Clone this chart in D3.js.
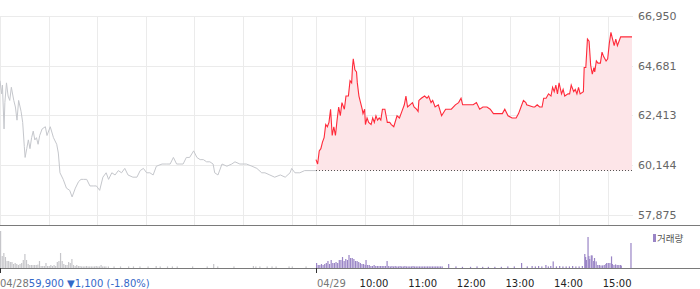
<!DOCTYPE html>
<html lang="ko">
<head>
<meta charset="UTF-8">
<title>일별 시세</title>
<script src="https://cdn.jsdelivr.net/npm/d3@7"></script>
<style>
    body {
        margin: 0;
        background: #fff;
    }
    svg {
        display: block;
        font-family: "DejaVu Sans", sans-serif;
    }
</style>
</head>
<body>
<svg id="chart" width="700" height="289"></svg>
<script>
// minutes from 09:00, price (won)
const day1Line = [[0,64000],[2,63400],[3,63800],[5,61800],[6,63000],[8,63900],[10,63300],[12,63100],[14,63700],[17,63100],[19,62800],[21,62200],[23,63100],[26,62600],[28,62100],[30,61000],[31,60500],[33,60900],[35,61300],[37,60900],[39,61400],[41,61700],[43,61300],[45,61400],[47,61100],[49,61500],[52,61800],[56,61900],[58,61500],[62,61900],[66,61400],[70,61100],[72,60700],[74,59800],[78,59500],[82,59100],[86,59000],[89,58700],[93,59100],[97,59400],[100,59500],[103,59500],[107,59500],[111,59200],[115,59200],[119,59200],[123,59000],[127,59600],[131,59800],[134,59500],[138,59800],[142,59700],[146,59900],[150,59800],[154,60000],[158,59700],[164,59600],[169,59600],[173,59900],[177,60000],[181,59800],[185,59800],[189,59700],[193,60100],[200,60200],[206,60200],[210,60200],[214,60500],[218,60200],[222,60200],[226,60200],[230,60500],[234,60500],[239,60800],[243,60500],[247,60400],[251,60400],[255,60300],[259,60300],[263,60200],[265,59800],[269,59700],[274,60200],[280,60100],[286,60200],[290,60300],[296,60200],[304,60200],[311,60100],[317,60000],[323,59800],[327,59800],[333,59700],[339,59600],[346,59700],[352,59600],[358,59800],[360,60000],[364,59800],[370,59800],[376,59900],[390,59900]]

const day2Line = [[0,60400],[2,60200],[4,60800],[6,60900],[8,61200],[10,61400],[12,62000],[14,61900],[16,62100],[18,62700],[20,61500],[22,61900],[24,61500],[26,62200],[28,62800],[30,62400],[32,63000],[35,62700],[37,63300],[40,63300],[42,64000],[44,63900],[45,64600],[46,65000],[48,64500],[50,64400],[51,63900],[53,63300],[55,63000],[57,62700],[58,62500],[60,62700],[61,62000],[63,62300],[65,62100],[68,62000],[70,62300],[72,62100],[74,62400],[76,62200],[78,62300],[80,62200],[82,62700],[85,62700],[88,62100],[91,62100],[93,62000],[96,61900],[100,62400],[103,62300],[106,62600],[109,62900],[111,63300],[113,62800],[116,62900],[119,63000],[121,62800],[124,62700],[126,62600],[127,63100],[130,63200],[134,63300],[137,63200],[139,63300],[142,63000],[144,63100],[147,62800],[151,62900],[155,62400],[160,62700],[163,62700],[167,62700],[172,62900],[176,63000],[179,63200],[181,62900],[186,62900],[190,62900],[194,62900],[198,63000],[202,62700],[206,62800],[211,62800],[215,62700],[219,62500],[225,62500],[230,62500],[233,62700],[237,62400],[242,62300],[247,62300],[250,62500],[253,62800],[256,63100],[259,63000],[260,62900],[268,62800],[270,62800],[273,62900],[276,62800],[279,62800],[281,63200],[284,63200],[287,63400],[290,63300],[292,63700],[294,63500],[296,63800],[298,63400],[300,63900],[303,63400],[305,63600],[307,63300],[311,63400],[313,63400],[315,63800],[318,63500],[320,63600],[322,63400],[324,63700],[326,63400],[330,63500],[331,64600],[333,64600],[335,65900],[337,65800],[339,64700],[341,64300],[343,64600],[344,64400],[346,64900],[348,64800],[351,64800],[353,65300],[355,65100],[358,64900],[360,65000],[362,65700],[364,66200],[366,65900],[368,65600],[370,65900],[372,65600],[374,65800],[376,66000],[381,66000],[390,66000]]

// minutes from 09:00, volume (thousand shares)
const day1Vol = [[0,185],[2,60],[4,75],[6,55],[8,35],[10,35],[12,30],[14,30],[16,20],[18,25],[20,20],[22,15],[24,20],[26,25],[28,40],[30,70],[32,40],[34,20],[36,15],[38,15],[40,15],[42,15],[44,15],[46,17],[48,35],[50,10],[52,10],[54,10],[56,25],[58,10],[60,10],[62,15],[64,10],[66,15],[68,10],[70,30],[72,35],[74,75],[76,35],[78,20],[80,15],[82,15],[84,30],[86,25],[88,45],[90,15],[92,10],[94,15],[96,10],[98,10],[100,8],[102,8],[104,8],[106,10],[108,8],[110,8],[112,8],[114,8],[116,8],[118,10],[120,8],[122,8],[124,15],[126,8],[128,8],[130,8],[133,8],[140,8],[148,8],[158,8],[164,8],[172,8],[182,8],[192,10],[197,8],[206,8],[212,8],[218,8],[237,8],[255,8],[263,20],[268,8],[288,8],[312,10],[315,8],[320,8],[329,8],[335,8],[340,8],[356,8],[360,8],[377,8]]

const day2Vol = [[0,25],[2,15],[4,15],[6,20],[8,15],[10,20],[12,25],[14,35],[16,20],[18,40],[20,25],[22,25],[24,30],[26,25],[28,40],[30,40],[32,55],[34,35],[36,45],[38,40],[40,65],[42,50],[44,50],[46,45],[48,35],[50,35],[52,30],[54,25],[56,20],[58,20],[60,15],[61,40],[63,15],[65,15],[67,10],[69,10],[71,15],[73,10],[75,10],[77,10],[79,10],[81,10],[83,10],[85,10],[87,35],[89,10],[91,8],[93,10],[95,8],[97,10],[99,8],[101,8],[103,10],[105,8],[107,8],[109,10],[111,8],[113,8],[115,8],[117,8],[119,10],[121,8],[123,8],[125,8],[127,8],[129,8],[131,8],[133,8],[135,8],[137,8],[139,8],[141,8],[143,8],[145,8],[147,8],[149,8],[151,8],[153,8],[155,8],[163,20],[172,8],[180,6],[190,6],[198,8],[205,6],[212,6],[220,6],[228,6],[236,8],[244,8],[253,25],[260,8],[266,10],[270,8],[274,10],[278,8],[283,15],[286,8],[289,10],[292,33],[296,8],[300,10],[304,8],[308,8],[312,8],[316,10],[320,8],[324,8],[328,10],[331,70],[332,55],[333,40],[335,155],[336,60],[337,45],[339,63],[340,63],[342,35],[343,50],[345,33],[347,15],[349,15],[351,13],[353,13],[355,15],[357,20],[358,25],[360,25],[362,25],[364,58],[365,20],[367,15],[369,18],[371,15],[373,15],[375,15],[376,12],[388,125]]

const dayLabels = ['04/28', '04/29']
const hourLabels = ['10:00', '11:00', '12:00', '13:00', '14:00', '15:00']
const priceTicks = [57875, 60144, 62413, 64681, 66950]
const prevClose = 59900
const prevChange = -1100
const prevChangePct = -1.80

const dayLen = 390  // 09:00 ~ 15:30

let svg = d3.select('#chart')

let x = d3.scaleLinear().domain([0, dayLen * 2]).range([0, 632])
let y = d3.scaleLinear().domain([57875, 66950]).range([215, 16])
let yVol = d3.scaleLinear().domain([0, 200]).range([268, 228])

let px = v => Math.round(v) + 0.5

// 가로 격자
svg.append('g').selectAll('line')
    .data(priceTicks)
    .enter().append('line')
    .attr('x1', 0).attr('x2', 633)
    .attr('y1', d => px(y(d))).attr('y2', d => px(y(d)))
    .attr('stroke', '#ebebeb')

// 세로 격자 (day start + hours)
let vTicks = []
for (let d = 0; d < 2; d++) {
    for (let h = 0; h <= hourLabels.length; h++) vTicks.push(d * dayLen + h * 60)
}
svg.append('g').selectAll('line')
    .data(vTicks)
    .enter().append('line')
    .attr('x1', d => px(x(d))).attr('x2', d => px(x(d)))
    .attr('y1', 16).attr('y2', 225)
    .attr('stroke', '#ebebeb')

// 가격 라벨
svg.append('g').selectAll('text')
    .data(priceTicks)
    .enter().append('text')
    .attr('x', 638)
    .attr('y', d => y(d) + 4)
    .attr('font-size', 11)
    .attr('fill', '#666')
    .text(d => d3.format(',')(d))

// 04/29 area + line
let d2 = day2Line.map(d => [d[0] + dayLen, d[1]])
svg.append('path')
    .datum(d2)
    .attr('fill', '#fde5e8')
    .attr('d', d3.area().x(d => x(d[0])).y0(y(prevClose)).y1(d => y(d[1])))

svg.append('line')
    .attr('x1', x(dayLen)).attr('x2', x(dayLen * 2))
    .attr('y1', px(y(prevClose)) - 1).attr('y2', px(y(prevClose)) - 1)
    .attr('stroke', '#555')
    .attr('stroke-dasharray', '1,2')

svg.append('path')
    .datum(day1Line)
    .attr('fill', 'none')
    .attr('stroke', '#c5c7cc')
    .attr('stroke-width', 1)
    .attr('d', d3.line().x(d => x(d[0])).y(d => y(d[1])))

svg.append('path')
    .datum(d2)
    .attr('fill', 'none')
    .attr('stroke', '#ff2a3a')
    .attr('stroke-width', 1.1)
    .attr('d', d3.line().x(d => x(d[0])).y(d => y(d[1])))

// 거래량
svg.append('g').selectAll('rect')
    .data(day1Vol)
    .enter().append('rect')
    .attr('x', d => x(d[0]))
    .attr('y', d => yVol(d[1]))
    .attr('width', 1.2)
    .attr('height', d => yVol(0) - yVol(d[1]))
    .attr('fill', '#c6c6ca')

svg.append('g').selectAll('rect')
    .data(day2Vol)
    .enter().append('rect')
    .attr('x', d => x(d[0] + dayLen))
    .attr('y', d => yVol(d[1]))
    .attr('width', 1.2)
    .attr('height', d => yVol(0) - yVol(d[1]))
    .attr('fill', '#9a85c6')

// 구분선
svg.append('line')
    .attr('x1', 0).attr('x2', 700)
    .attr('y1', 225.5).attr('y2', 225.5)
    .attr('stroke', '#7a7a7a')
svg.append('line')
    .attr('x1', 0).attr('x2', 700)
    .attr('y1', 268.5).attr('y2', 268.5)
    .attr('stroke', '#7a7a7a')

svg.append('g').selectAll('line')
    .data([0, dayLen])
    .enter().append('line')
    .attr('x1', d => px(x(d))).attr('x2', d => px(x(d)))
    .attr('y1', 268).attr('y2', 273)
    .attr('stroke', '#333')

// 범례
svg.append('rect')
    .attr('x', 653).attr('y', 234)
    .attr('width', 3).attr('height', 8)
    .attr('fill', '#9a85c6')
svg.append('text')
    .attr('x', 657).attr('y', 242)
    .attr('font-family', '"Noto Sans CJK KR", sans-serif')
    .attr('font-size', 9.5)
    .attr('fill', '#555')
    .text('거래량')

// 하단 라벨
let info = svg.append('text')
    .attr('x', 0).attr('y', 287)
    .attr('font-size', 10)
    .attr('fill', '#777')
    .text(dayLabels[0])
info.append('tspan')
    .attr('fill', '#3468c8')
    .text(d3.format(',')(prevClose) + ' ' + (prevChange < 0 ? '▼' : '▲') +
        d3.format(',')(Math.abs(prevChange)) + ' (' + prevChangePct.toFixed(2) + '%)')

svg.append('text')
    .attr('x', x(dayLen) + 1).attr('y', 287)
    .attr('font-size', 10)
    .attr('fill', '#777')
    .text(dayLabels[1])

svg.append('g').selectAll('text')
    .data(hourLabels)
    .enter().append('text')
    .attr('x', (d, i) => x(dayLen + (i + 1) * 60) - 5)
    .attr('y', 287)
    .attr('font-size', 10)
    .attr('fill', '#222')
    .text(d => d)
</script>
</body>
</html>
